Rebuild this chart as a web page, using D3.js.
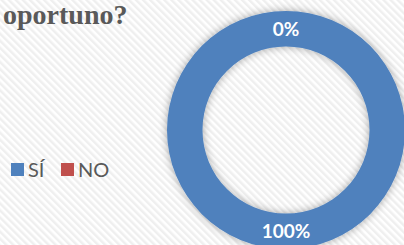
<!DOCTYPE html>
<html>
<head>
<meta charset="utf-8">
<script src="https://cdn.jsdelivr.net/npm/d3@7"></script>
<style>
  html, body { margin: 0; padding: 0; background: #fff; }
  svg { display: block; }
</style>
</head>
<body>
<svg id="chart" width="404" height="245"></svg>
<script>
// datos de la pregunta
const categories = ['SÍ', 'NO']
const values = [100, 0]
const labels = ['100%', '0%']
const colors = ['#4F81BD', '#C0504D']
const title = 'oportuno?'

const svg = d3.select('#chart')
const W = 404
const H = 245

// fondo rayado
const defs = svg.append('defs')
const pat = defs.append('pattern')
  .attr('id', 'rayas')
  .attr('patternUnits', 'userSpaceOnUse')
  .attr('width', 5)
  .attr('height', 5)
  .attr('patternTransform', 'rotate(-45)')
pat.append('rect').attr('width', 5).attr('height', 5).attr('fill', '#ffffff')
pat.append('rect').attr('width', 2.5).attr('height', 5).attr('fill', '#efefef')

const sombra = defs.append('filter')
  .attr('id', 'sombra')
  .attr('x', '-20%').attr('y', '-20%')
  .attr('width', '140%').attr('height', '140%')
sombra.append('feGaussianBlur').attr('in', 'SourceAlpha').attr('stdDeviation', 4)
sombra.append('feComponentTransfer').append('feFuncA').attr('type', 'linear').attr('slope', 0.35)
const merge = sombra.append('feMerge')
merge.append('feMergeNode')
merge.append('feMergeNode').attr('in', 'SourceGraphic')

svg.append('rect').attr('width', W).attr('height', H).attr('fill', 'url(#rayas)')

// titulo
svg.append('text')
  .attr('x', 3)
  .attr('y', 24)
  .attr('font-family', '"Liberation Serif", "Times New Roman", serif')
  .attr('font-weight', 'bold')
  .attr('font-size', 28)
  .attr('fill', '#595959')
  .text(title)

// dona
const cx = 286
const cy = 130
const rOut = 119
const rIn = 83.5

const pie = d3.pie().sort(null).value(d => d.v)
const arcs = pie(categories.map((c, i) => ({ c, v: values[i], l: labels[i], col: colors[i] })))
const arc = d3.arc().innerRadius(rIn).outerRadius(rOut)

const g = svg.append('g').attr('transform', `translate(${cx},${cy})`)

g.append('g')
  .attr('filter', 'url(#sombra)')
  .selectAll('path')
  .data(arcs)
  .enter()
  .append('path')
  .attr('d', arc)
  .attr('fill', d => d.data.col)

// etiquetas: 0% arriba, 100% abajo (como el original)
const rMid = (rIn + rOut) / 2
g.selectAll('text.etiqueta')
  .data(arcs)
  .enter()
  .append('text')
  .attr('class', 'etiqueta')
  .attr('x', 0)
  .attr('y', d => (d.data.v === 0 ? -rMid : rMid) + 7)
  .attr('text-anchor', 'middle')
  .attr('font-family', 'Lato, "Open Sans", sans-serif')
  .attr('font-weight', 'bold')
  .attr('font-size', 19)
  .attr('fill', '#ffffff')
  .text(d => d.data.l)

// leyenda
const x = d3.scalePoint().domain(categories).range([11, 61])
const ley = svg.append('g').attr('transform', 'translate(0,163)')
const item = ley.selectAll('g')
  .data(categories)
  .enter()
  .append('g')
  .attr('transform', d => `translate(${x(d)},0)`)
item.append('rect')
  .attr('width', 13)
  .attr('height', 13)
  .attr('fill', (d, i) => colors[i])
item.append('text')
  .attr('x', 17)
  .attr('y', 14)
  .attr('font-family', 'Lato, "Open Sans", sans-serif')
  .attr('font-size', 20)
  .attr('fill', '#595959')
  .text(d => d)
</script>
</body>
</html>
